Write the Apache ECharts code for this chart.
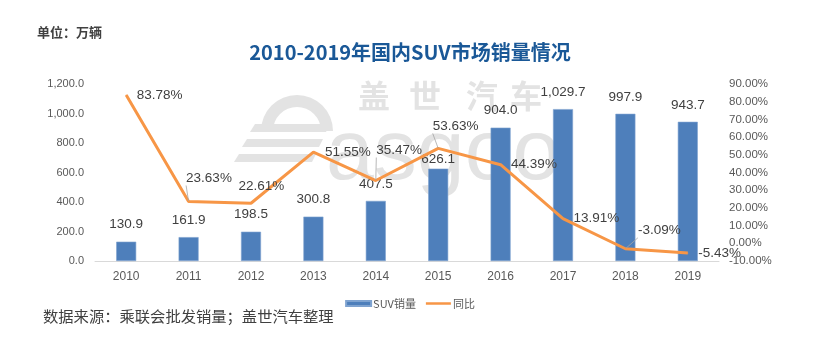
<!DOCTYPE html>
<html>
<head>
<meta charset="utf-8">
<script src="https://cdn.jsdelivr.net/npm/echarts@6/dist/echarts.min.js"></script>
<style>
html,body{margin:0;padding:0;background:#fff;}
#chart{width:820px;height:357px;}
</style>
</head>
<body>
<div id="chart"></div>
<script>
// ---- data ----
const years = ['2010','2011','2012','2013','2014','2015','2016','2017','2018','2019'];
const salesValues = [130.9, 161.9, 198.5, 300.8, 407.5, 626.1, 904.0, 1029.7, 997.9, 943.7];
const growthValues = [83.78, 23.63, 22.61, 51.55, 35.47, 53.63, 44.39, 13.91, -3.09, -5.43];
const seriesNames = ['SUV销量', '同比'];
const titleText = '2010-2019年国内SUV市场销量情况';
const unitText = '单位：万辆';
const sourceText = '数据来源：乘联会批发销量；盖世汽车整理';

// ---- label placement (style only) ----
const salesLabelOffsets = [[0,0],[0,0],[0,0],[0,0],[0,0],[0,8],[0,0],[0,0],[0,0],[0,0]];
const growthLabelOffsets = [[10,0],[-3,-23],[-13,-17],[11,0],[0,-30],[-6,-22],[10,0],[10,0],[12,-18],[10,0]];
const growthLeader = [false,true,false,false,true,true,false,false,true,false];

const numFont = '"Liberation Sans Narrow","Liberation Sans",Arial,sans-serif';
const cjkFont = '"Noto Sans CJK SC","Microsoft YaHei",sans-serif';

function fmt1(v){
  return v.toLocaleString('en-US',{minimumFractionDigits:1,maximumFractionDigits:1});
}

const chart = echarts.init(document.getElementById('chart'), null, {renderer:'canvas'});
const wm = '#e3e3e3';
const option = {
  animation: false,
  backgroundColor: '#ffffff',
  title: {
    text: titleText,
    left: 'center',
    top: 37,
    textStyle: {fontFamily: cjkFont, fontSize: 20, fontWeight: 'bold', color: '#1A5897'}
  },
  graphic: [
    {type:'text', left: 37, top: 26, style:{text: unitText, font: 'bold 13px ' + cjkFont, fill:'#404040'}},
    {type:'text', left: 43, top: 309, style:{text: sourceText, font: '15.3px ' + cjkFont, fill:'#404040'}},
    // watermark
    {type:'group', z: 0, silent: true, children: [
      {type:'text', x: 358, y: 80, style:{text:'盖', font:'bold 32px ' + cjkFont, fill: wm}},
      {type:'text', x: 409, y: 80, style:{text:'世', font:'bold 32px ' + cjkFont, fill: wm}},
      {type:'text', x: 466, y: 80, style:{text:'汽', font:'bold 32px ' + cjkFont, fill: wm}},
      {type:'text', x: 510, y: 80, style:{text:'车', font:'bold 32px ' + cjkFont, fill: wm}},
      {type:'text', x: 326, y: 112, style:{text:'asgoo', font:'86px "Liberation Sans",Arial,sans-serif', fill: wm}},
      {type:'sector', shape:{cx: 297, cy: 131, r0: 24, r: 36, startAngle: Math.PI, endAngle: 2*Math.PI}, style:{fill: wm}},
      {type:'polygon', shape:{points:[[255,124],[330,124],[326,132],[250,132]]}, style:{fill: wm}},
      {type:'polygon', shape:{points:[[247,139],[323,139],[319,147],[242,147]]}, style:{fill: wm}},
      {type:'polygon', shape:{points:[[239,154],[316,154],[312,162],[234,162]]}, style:{fill: wm}}
    ]}
  ],
  legend: {
    data: [
      {name: seriesNames[0], icon: 'rect'},
      {name: seriesNames[1], icon: 'path://M0,0H50V5H0Z'}
    ],
    left: 'center',
    top: 293,
    itemWidth: 25,
    itemHeight: 5,
    itemGap: 10,
    textStyle: {fontFamily: cjkFont, fontSize: 11, color: '#595959', padding:[0,0,0,-3]}
  },
  grid: {left: 95, right: 101, top: 84, bottom: 96},
  xAxis: {
    type: 'category',
    data: years,
    axisLine: {lineStyle: {color: '#D9D9D9', width: 1}},
    axisTick: {show: false},
    axisLabel: {fontFamily: numFont, fontSize: 12, color: '#595959', margin: 10}
  },
  yAxis: [
    {
      type: 'value', min: 0, max: 1200, interval: 200,
      axisLine: {show: false}, axisTick: {show: false}, splitLine: {show: false},
      axisLabel: {fontFamily: numFont, fontSize: 11, color: '#595959', margin: 11, formatter: v => fmt1(v)}
    },
    {
      type: 'value', min: -10, max: 90, interval: 10,
      axisLine: {show: false}, axisTick: {show: false}, splitLine: {show: false},
      axisLabel: {fontFamily: numFont, fontSize: 11.5, color: '#595959', margin: 10, formatter: v => v.toFixed(2) + '%'}
    }
  ],
  series: [
    {
      name: seriesNames[0],
      type: 'bar',
      yAxisIndex: 0,
      data: salesValues.map((v, i) => ({value: v, label: {offset: salesLabelOffsets[i]}})),
      barWidth: 20,
      z: 2,
      itemStyle: {color: '#4E7FBB', borderColor: '#7FA3D0', borderWidth: 0.6},
      label: {
        show: true, position: 'top', distance: 10,
        fontFamily: numFont, fontSize: 13.5, color: '#404040',
        formatter: p => fmt1(p.value)
      },
      emphasis: {disabled: true}
    },
    {
      name: seriesNames[1],
      type: 'line',
      yAxisIndex: 1,
      z: 3,
      symbol: 'circle',
      symbolSize: 1,
      showSymbol: true,
      itemStyle: {color: '#F79646'},
      lineStyle: {color: '#F79646', width: 3},
      data: growthValues.map((v, i) => ({
        value: v,
        label: {offset: growthLabelOffsets[i]},
        labelLine: {show: growthLeader[i]}
      })),
      label: {
        show: true, position: 'right', distance: 0,
        fontFamily: numFont, fontSize: 13.5, color: '#404040',
        formatter: p => p.value.toFixed(2) + '%'
      },
      labelLine: {show: false, lineStyle: {color: '#A6A6A6', width: 0.8}},
      emphasis: {disabled: true}
    }
  ]
};
chart.setOption(option);
</script>
</body>
</html>
